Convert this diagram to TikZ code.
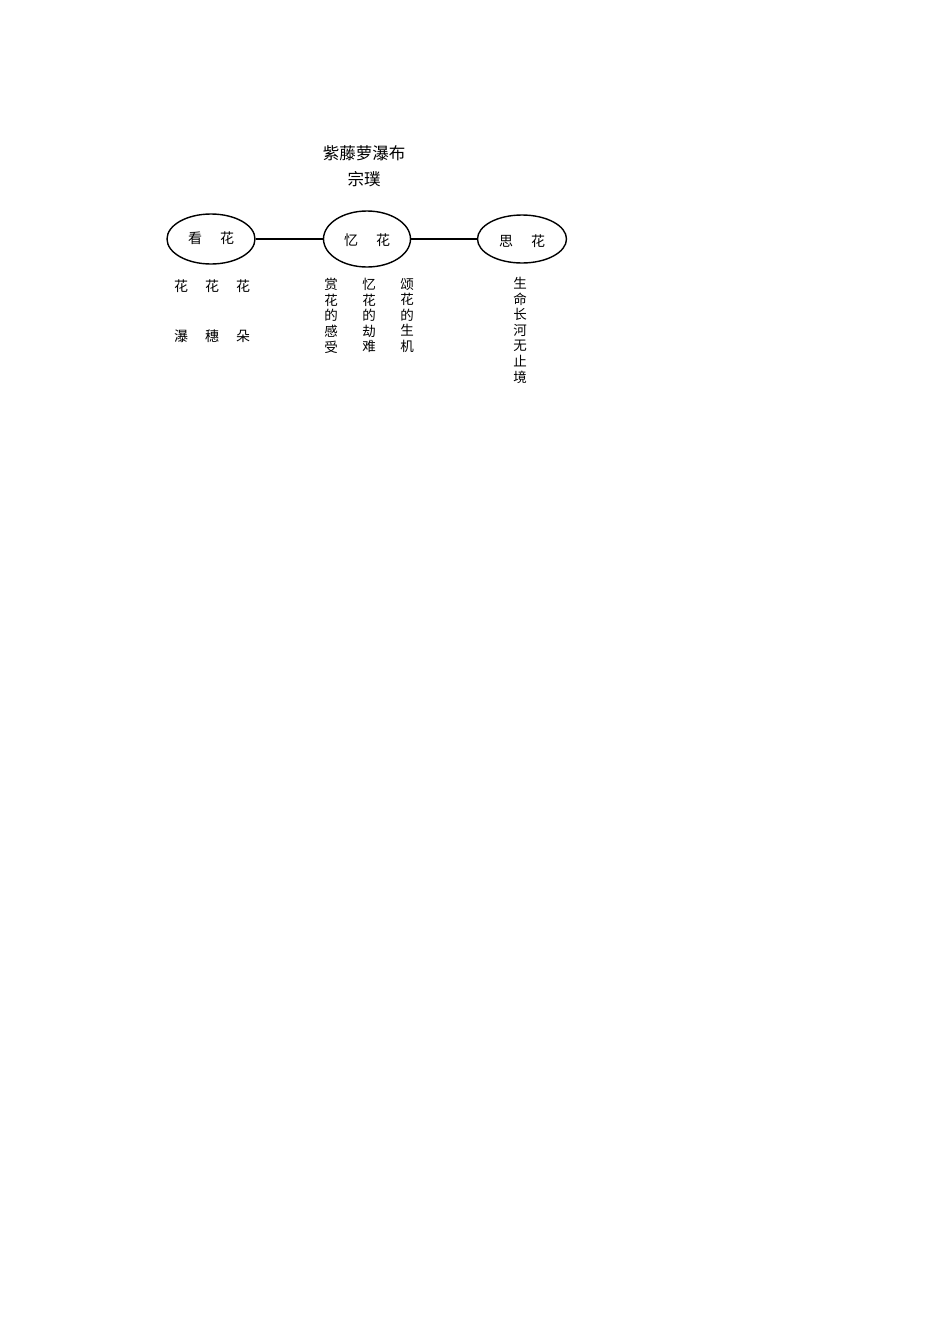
\documentclass[tikz,border=0pt]{standalone}
\usepackage{fontspec}
\setmainfont{Noto Sans CJK SC}
\usetikzlibrary{shapes.geometric}
\begin{document}
\begin{tikzpicture}[x=1pt,y=-1pt,
  oval/.style={ellipse,draw,line width=1.4pt,inner sep=0pt},
  lab/.style={inner sep=0pt,font=\fontsize{14}{14}\selectfont},
  vcol/.style={inner sep=0pt,align=center,anchor=north,font=\fontsize{13.5}{15.6}\selectfont},
  link/.style={line width=1.4pt}]
\useasboundingbox (0,0) rectangle (950,1344);
\node[inner sep=0pt,font=\fontsize{16.5}{16.5}\selectfont] (title) at (364,153) {紫藤萝瀑布};
\node[inner sep=0pt,font=\fontsize{16.5}{16.5}\selectfont] (author) at (364,179) {宗璞};
\node[oval,minimum width=88pt,minimum height=50pt] (a) at (211,239) {};
\node[oval,minimum width=87pt,minimum height=56pt] (b) at (367,239) {};
\node[oval,minimum width=89pt,minimum height=48pt] (c) at (522,239) {};
\node[lab] (a1) at (195,238) {看};
\node[lab] (a2) at (227,238) {花};
\node[lab] (b1) at (351,240) {忆};
\node[lab] (b2) at (383,240) {花};
\node[lab] (c1) at (506,241) {思};
\node[lab] (c2) at (538,241) {花};
\draw[link] (a) -- (b);
\draw[link] (b) -- (c);
\node[lab] (h1) at (181,286) {花};
\node[lab] (h2) at (212,286) {花};
\node[lab] (h3) at (243,286) {花};
\node[lab] (p1) at (181,336) {瀑};
\node[lab] (p2) at (212,336) {穗};
\node[lab] (p3) at (243,336) {朵};
\node[vcol] (v1) at (331,278) {赏\\花\\的\\感\\受};
\node[vcol] (v2) at (369,278) {忆\\花\\的\\劫\\难};
\node[vcol] (v3) at (407,278) {颂\\花\\的\\生\\机};
\node[vcol] (v4) at (520,277) {生\\命\\长\\河\\无\\止\\境};
\end{tikzpicture}
\end{document}
